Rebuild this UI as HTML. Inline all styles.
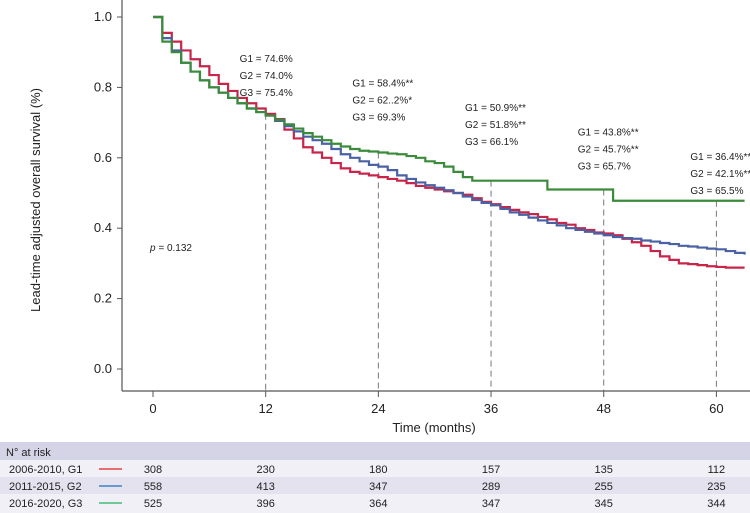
<!DOCTYPE html>
<html><head><meta charset="utf-8"><style>
body{margin:0;background:#fff;font-family:"Liberation Sans",sans-serif}
svg{display:block}
</style></head><body>
<svg id="c" width="750" height="513" font-family="Liberation Sans, sans-serif"></svg>
<script>
const months=[0,1,2,3,4,5,6,7,8,9,10,11,12,13,14,15,16,17,18,19,20,21,22,23,24,25,26,27,28,29,30,31,32,33,34,35,36,37,38,39,40,41,42,43,44,45,46,47,48,49,50,51,52,53,54,55,56,57,58,59,60,61,62,63];
const g1=[1,0.955,0.93,0.905,0.88,0.86,0.835,0.81,0.79,0.77,0.755,0.74,0.725,0.71,0.68,0.655,0.63,0.615,0.60,0.585,0.57,0.56,0.555,0.55,0.545,0.54,0.535,0.528,0.52,0.515,0.51,0.505,0.50,0.495,0.485,0.475,0.468,0.46,0.452,0.445,0.44,0.432,0.425,0.415,0.41,0.40,0.395,0.388,0.385,0.38,0.37,0.36,0.35,0.335,0.32,0.31,0.30,0.298,0.295,0.292,0.29,0.288,0.288,0.288];
const g2=[1,0.94,0.905,0.87,0.845,0.82,0.80,0.785,0.77,0.755,0.74,0.73,0.72,0.705,0.69,0.675,0.66,0.65,0.64,0.625,0.61,0.60,0.59,0.58,0.575,0.565,0.55,0.54,0.53,0.522,0.515,0.508,0.50,0.49,0.48,0.472,0.465,0.455,0.445,0.438,0.43,0.422,0.415,0.408,0.40,0.395,0.39,0.385,0.38,0.375,0.372,0.37,0.365,0.362,0.358,0.355,0.35,0.348,0.345,0.342,0.34,0.335,0.33,0.325];
const g3=[1,0.93,0.90,0.87,0.845,0.82,0.80,0.785,0.77,0.755,0.74,0.73,0.72,0.708,0.695,0.683,0.67,0.66,0.65,0.64,0.632,0.625,0.62,0.618,0.615,0.612,0.61,0.605,0.60,0.59,0.585,0.575,0.56,0.545,0.535,0.535,0.535,0.535,0.535,0.535,0.535,0.535,0.51,0.51,0.51,0.51,0.51,0.51,0.51,0.478,0.478,0.478,0.478,0.478,0.478,0.478,0.478,0.478,0.478,0.478,0.478,0.478,0.478,0.478];
const xTicks=[0,12,24,36,48,60];
const yTicks=["0.0","0.2","0.4","0.6","0.8","1.0"];
const annot=[["G1 = 74.6%","G2 = 74.0%","G3 = 75.4%"],["G1 = 58.4%**","G2 = 62..2%*","G3 = 69.3%"],["G1 = 50.9%**","G2 = 51.8%**","G3 = 66.1%"],["G1 = 43.8%**","G2 = 45.7%**","G3 = 65.7%"],["G1 = 36.4%**","G2 = 42.1%**","G3 = 65.5%"]];
const groups=["2006-2010, G1","2011-2015, G2","2016-2020, G3"];
const risk1=[308,230,180,157,135,112];
const risk2=[558,413,347,289,255,235];
const risk3=[525,396,364,347,345,344];
const X=m=>153+m*9.39, Y=v=>369-v*352;
const svg=document.getElementById('c');const NS='http://www.w3.org/2000/svg';
function mk(t,a,txt){const e=document.createElementNS(NS,t);for(const k in a)e.setAttribute(k,a[k]);if(txt!=null)e.textContent=txt;svg.appendChild(e);return e;}
let e;
e=mk('line',{x1:122,y1:0,x2:122,y2:391,stroke:'#555','stroke-width':1.2});


e=mk('line',{x1:122,y1:391,x2:750,y2:391,stroke:'#555','stroke-width':1.2});


yTicks.forEach((t,i)=>{const y=Y(parseFloat(t));
mk('line',{x1:117,y1:y,x2:122,y2:y,stroke:'#555'});
e=mk('text',{x:112,y:y+4,'text-anchor':'end','font-size':13,fill:'#222'},t);

});
xTicks.forEach(m=>{const x=X(m);
mk('line',{x1:x,y1:391,x2:x,y2:397,stroke:'#555'});
e=mk('text',{x:x,y:413,'text-anchor':'middle','font-size':13,fill:'#222'},m);

});
e=mk('text',{x:434,y:432,'text-anchor':'middle','font-size':13,fill:'#222'},'Time (months)');


e=mk('text',{x:0,y:0,transform:'translate(40,200) rotate(-90)','text-anchor':'middle','font-size':13,fill:'#222'},'Lead-time adjusted overall survival (%)');


xTicks.slice(1).forEach((m,i)=>{const idx=months.indexOf(m);const top=Math.max(g1[idx],g2[idx],g3[idx]);
e=mk('line',{x1:X(m),y1:Y(top),x2:X(m),y2:391,stroke:'#777','stroke-dasharray':'6,4'});


annot[i].forEach((s,j)=>{e=mk('text',{x:X(m)-26,y:62+i*24.5+j*17,'font-size':10,fill:'#222'},s);

});});
function step(d){let p=`M${X(months[0])},${Y(d[0])}`;for(let i=1;i<months.length;i++){p+=` H${X(months[i])} V${Y(d[i])}`;}return p;}
[[g1,'#c8254a','curve-g1'],[g2,'#4a62a4','curve-g2'],[g3,'#3a8c3a','curve-g3']].forEach(([d,c,n])=>{
e=mk('path',{d:step(d),fill:'none',stroke:c,'stroke-width':2.2});

});
e=mk('text',{x:150,y:251,'font-size':10,fill:'#222'});e.innerHTML='<tspan font-style="italic">p</tspan> = 0.132';


const rows=[[442,18,'#d5d3e6'],[460,17,'#f1f0f7'],[477,17,'#e3e2ee'],[494,19,'#f1f0f7']];
rows.forEach(r=>{e=mk('rect',{x:0,y:r[0],width:750,height:r[1],fill:r[2]});

});
e=mk('text',{x:6,y:456,'font-size':11,fill:'#222'},'N° at risk');


const cols=['#e02020','#1f6fc0','#20b060'];
[risk1,risk2,risk3].forEach((r,i)=>{const y=473+i*17;
e=mk('text',{x:9,y:y,'font-size':11,fill:'#222'},groups[i]);


mk('line',{x1:99,y1:y-4,x2:122,y2:y-4,stroke:cols[i],'stroke-width':1.3});
r.forEach((v,j)=>{const x=X(xTicks[j]);e=mk('text',{x:x,y:y,'text-anchor':'middle','font-size':11,fill:'#222'},v);

});});
</script>
</body></html>
